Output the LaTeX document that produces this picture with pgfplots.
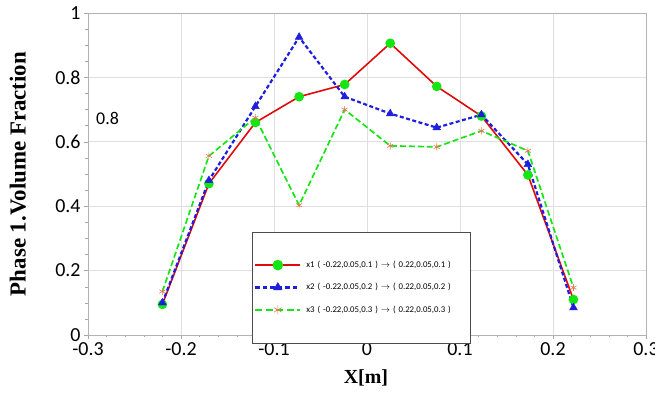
\documentclass[border=0pt]{standalone}
\usepackage{pgfplots}
\pgfplotsset{compat=1.18}
\usepackage{fontspec}
\setmainfont{Carlito}
\newfontfamily\timesb{Liberation Serif}
\definecolor{cred}{RGB}{225,10,10}
\definecolor{cgreen}{RGB}{20,230,20}
\definecolor{cblue}{RGB}{30,30,220}
\definecolor{cstar}{RGB}{225,120,80}
\begin{document}
\begin{tikzpicture}
\useasboundingbox (-88bp,-59bp) rectangle (567bp,335bp);
\begin{axis}[
  scale only axis, width=558bp, height=322bp,
  xmin=-0.3, xmax=0.3, ymin=0, ymax=1,
  xtick={-0.3,-0.2,-0.1,0,0.1,0.2,0.3},
  ytick={0,0.2,0.4,0.6,0.8,1},
  minor x tick num=4, minor y tick num=3,
  /pgf/number format/assume math mode=true,
  ticklabel style={font=\fontsize{20}{22}\selectfont},
  tick align=outside, tick pos=left,
  major tick length=4bp, minor tick length=2.5bp,
  every tick/.style={gray!70},
  axis line style={gray!60, line width=0.8pt},
  grid=major, grid style={gray!25, line width=0.6pt},
  xlabel={\timesb\bfseries X[m]},
  ylabel={\timesb\bfseries Phase 1.Volume Fraction},
  xlabel style={font=\fontsize{20}{22}\selectfont, at={(axis description cs:0.498,-0.134)}, anchor=center},
  ylabel style={font=\fontsize{23}{25}\selectfont, at={(axis description cs:-0.1255,0.5)}, anchor=center},
  legend cell align=left,
  legend style={at={(rel axis cs:0.294,0.32)}, anchor=north west,
    font=\fontsize{8.8}{10}\selectfont, draw=black!70,
    inner xsep=2bp, inner ysep=27bp, row sep=10.5bp, column sep=3bp,
    text width=160bp},
]
\addplot[cred, line width=1.6pt, mark=*, mark size=4bp, mark options={solid, fill=cgreen, draw=cgreen},
  legend image code/.code={
    \draw[cred, line width=1.8pt, solid] (0cm,0cm) -- (1.58cm,0cm);
    \fill[cgreen] (0.79cm,0cm) circle (4.5bp);}]
 coordinates {(-0.22,0.095) (-0.17,0.47) (-0.12,0.66) (-0.073,0.74) (-0.024,0.778) (0.025,0.906) (0.075,0.772) (0.123,0.68) (0.173,0.497) (0.222,0.11)};
\addlegendentry{x1 ( -0.22,0.05,0.1 ) $\rightarrow$ ( 0.22,0.05,0.1 )}
\addplot[cblue, line width=2.2pt, dash pattern=on 4pt off 2.5pt, mark=triangle*, mark size=4.5bp, mark options={solid, fill=cblue, draw=cblue, line width=0.4pt},
  legend image code/.code={
    \draw[cblue, line width=2.4pt, dash pattern=on 4.5pt off 3pt] (0cm,0cm) -- (1.58cm,0cm);
    \draw[cblue, fill=cblue, solid, line width=0.4pt, mark=triangle*, mark size=5bp] plot coordinates {(0.79cm,0cm)};}]
 coordinates {(-0.22,0.10) (-0.17,0.48) (-0.12,0.71) (-0.073,0.925) (-0.024,0.74) (0.025,0.6875) (0.075,0.644) (0.123,0.684) (0.173,0.53) (0.222,0.085)};
\addlegendentry{x2 ( -0.22,0.05,0.2 ) $\rightarrow$ ( 0.22,0.05,0.2 )}
\addplot[cgreen, line width=1.7pt, dash pattern=on 6pt off 3pt, mark=asterisk, mark size=3.5bp, mark options={solid, draw=cstar, line width=0.6pt},
  legend image code/.code={
    \draw[cgreen, line width=1.8pt, dash pattern=on 7pt off 3.5pt] (0cm,0cm) -- (1.58cm,0cm);
    \draw[cstar, solid, line width=0.7pt, mark=asterisk, mark size=4.5bp] plot coordinates {(0.79cm,0cm)};}]
 coordinates {(-0.22,0.135) (-0.17,0.556) (-0.12,0.675) (-0.073,0.403) (-0.024,0.70) (0.025,0.5875) (0.075,0.584) (0.123,0.634) (0.173,0.572) (0.222,0.147)};
\addlegendentry{x3 ( -0.22,0.05,0.3 ) $\rightarrow$ ( 0.22,0.05,0.3 )}
\node[anchor=west, font=\fontsize{18}{20}\selectfont] at (axis cs:-0.295,0.672) {0.8};
\end{axis}
\end{tikzpicture}
\end{document}
